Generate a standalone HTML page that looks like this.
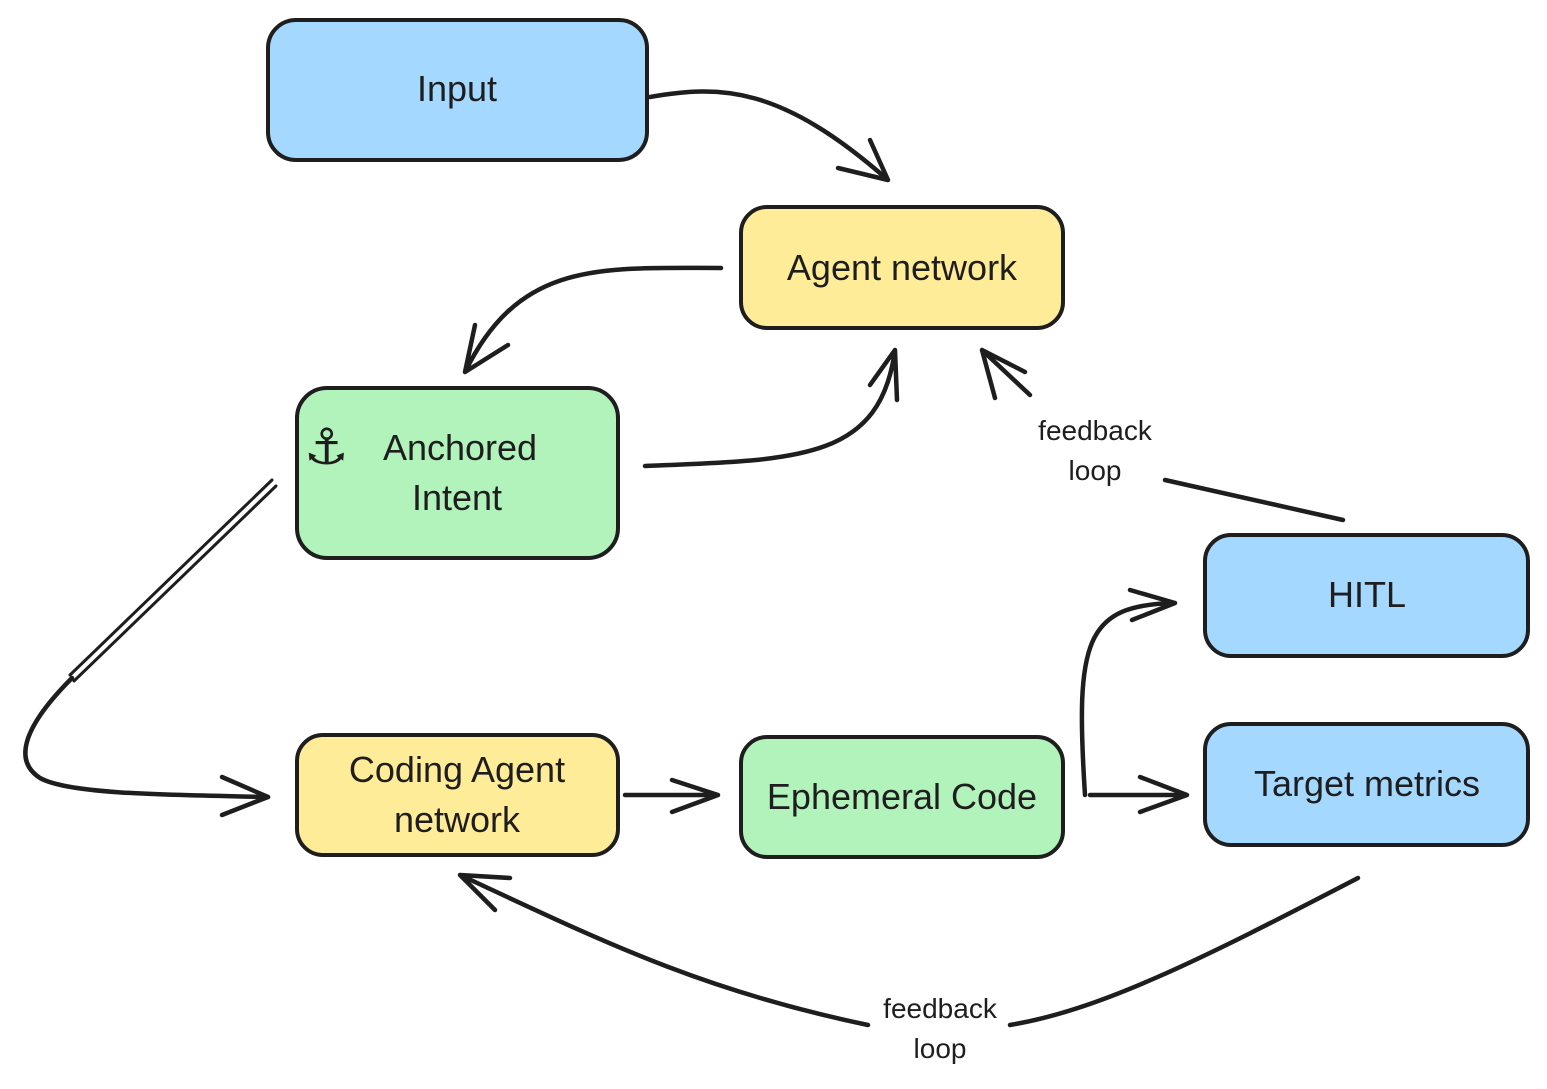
<!DOCTYPE html>
<html><head><meta charset="utf-8"><style>
html,body{margin:0;padding:0;background:#fff;}
svg{display:block}
text{font-family:"Liberation Sans","DejaVu Sans",sans-serif;fill:#1e1e1e;}
.b{stroke:#1e1e1e;stroke-width:4;}
.a{fill:none;stroke:#1e1e1e;stroke-width:4.5;stroke-linecap:round;stroke-linejoin:round;}
.t{font-size:36px;text-anchor:middle;}
.s{font-size:28px;text-anchor:middle;}
</style></head><body>
<svg width="1547" height="1089" viewBox="0 0 1547 1089">
<rect class="b" x="268" y="20" width="379" height="140" rx="28" fill="#a5d8ff"/>
<rect class="b" x="741" y="207" width="322" height="121" rx="26" fill="#ffec99"/>
<rect class="b" x="297" y="388" width="321" height="170" rx="30" fill="#b2f2bb"/>
<rect class="b" x="1205" y="535" width="323" height="121" rx="26" fill="#a5d8ff"/>
<rect class="b" x="1205" y="724" width="323" height="121" rx="26" fill="#a5d8ff"/>
<rect class="b" x="297" y="735" width="321" height="120" rx="26" fill="#ffec99"/>
<rect class="b" x="741" y="737" width="322" height="120" rx="26" fill="#b2f2bb"/>

<text class="t" x="457" y="101">Input</text>
<text class="t" x="902" y="280">Agent network</text>
<text x="304" y="464" style="font-size:50px;font-weight:bold">⚓</text>
<text class="t" x="460" y="460">Anchored</text>
<text class="t" x="457" y="510">Intent</text>
<text class="t" x="1367" y="607">HITL</text>
<text class="t" x="1367" y="796">Target metrics</text>
<text class="t" x="457" y="782">Coding Agent</text>
<text class="t" x="457" y="832">network</text>
<text class="t" x="902" y="809">Ephemeral Code</text>
<text class="s" x="1095" y="440">feedback</text>
<text class="s" x="1095" y="480">loop</text>
<text class="s" x="940" y="1018">feedback</text>
<text class="s" x="940" y="1058">loop</text>

<path class="a" d="M650,97 C720,85 780,85 888,180 M888,180 L838,168 M888,180 L870,140"/>
<path class="a" d="M721,268 C600,268 520,260 465,372 M465,372 L475,325 M465,372 L508,345"/>
<path class="a" d="M645,466 C800,460 880,460 895,350 M895,350 L870,385 M895,350 L897,400"/>
<path class="a" d="M1343,520 L1165,480"/>
<path class="a" d="M1030,395 L982,350 M982,350 L995,398 M982,350 L1025,372"/>
<path class="a" style="stroke-width:3" d="M272,480 L70,675"/>
<path class="a" style="stroke-width:3" d="M276,486 L74,681"/>
<path class="a" d="M72,678 C25,725 12,760 40,778 C70,795 180,795 268,797"/>
<path class="a" d="M268,797 L222,777 M268,797 L222,815"/>
<path class="a" d="M625,795 L718,795 M718,795 L672,780 M718,795 L672,812"/>
<path class="a" d="M1085,795 C1075,640 1085,605 1175,603 M1175,603 L1130,590 M1175,603 L1132,620"/>
<path class="a" d="M1090,795 L1187,795 M1187,795 L1140,777 M1187,795 L1140,812"/>
<path class="a" d="M1358,878 C1200,960 1100,1010 1010,1025"/>
<path class="a" d="M868,1025 C700,990 600,940 460,875 M460,875 L495,910 M460,875 L510,878"/>
</svg>
</body></html>
